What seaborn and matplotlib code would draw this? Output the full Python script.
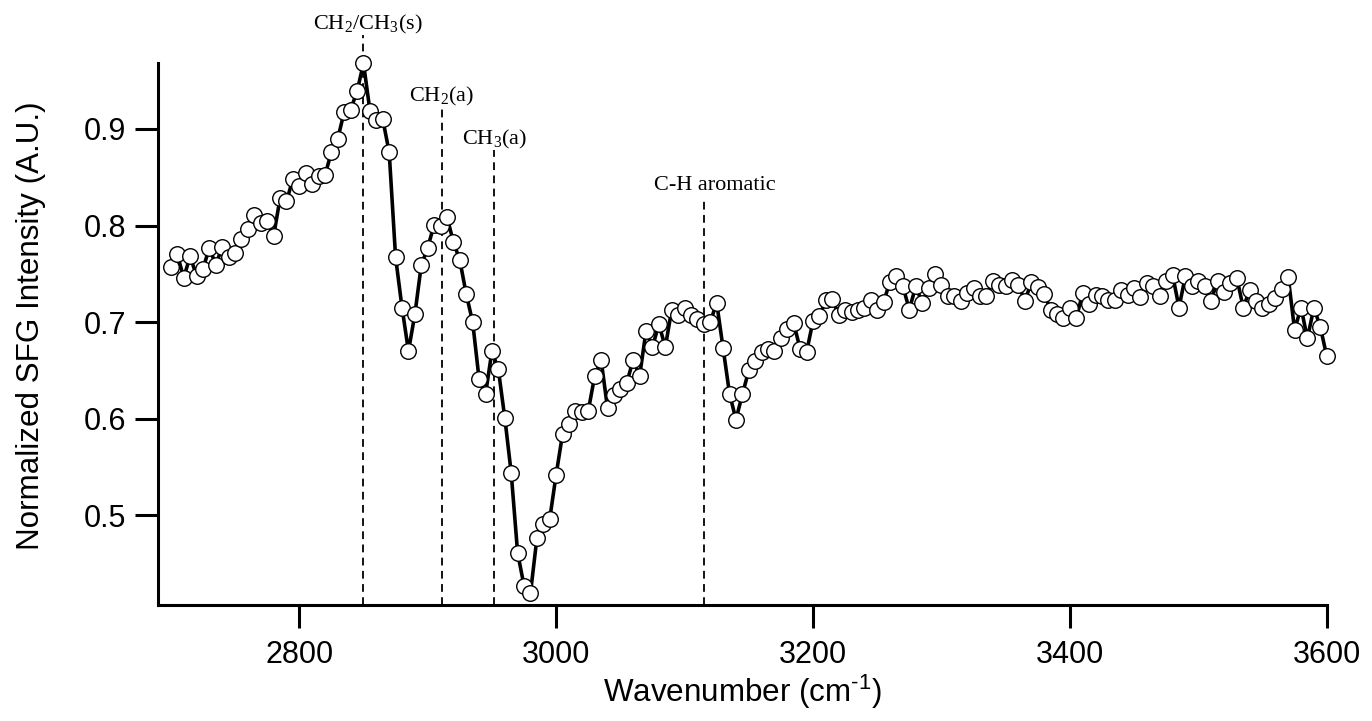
import matplotlib
matplotlib.use("Agg")
import matplotlib.pyplot as plt
import seaborn as sns
import pandas as pd

# ---------------- data ----------------
wavenumber = [
    2700, 2705, 2710, 2715, 2720, 2725, 2730, 2735, 2740, 2745,
    2750, 2755, 2760, 2765, 2770, 2775, 2780, 2785, 2790, 2795,
    2800, 2805, 2810, 2815, 2820, 2825, 2830, 2835, 2840, 2845,
    2850, 2855, 2860, 2865, 2870, 2875, 2880, 2885, 2890, 2895,
    2900, 2905, 2910, 2915, 2920, 2925, 2930, 2935, 2940, 2945,
    2950, 2955, 2960, 2965, 2970, 2975, 2980, 2985, 2990, 2995,
    3000, 3005, 3010, 3015, 3020, 3025, 3030, 3035, 3040, 3045,
    3050, 3055, 3060, 3065, 3070, 3075, 3080, 3085, 3090, 3095,
    3100, 3105, 3110, 3115, 3120, 3125, 3130, 3135, 3140, 3145,
    3150, 3155, 3160, 3165, 3170, 3175, 3180, 3185, 3190, 3195,
    3200, 3205, 3210, 3215, 3220, 3225, 3230, 3235, 3240, 3245,
    3250, 3255, 3260, 3265, 3270, 3275, 3280, 3285, 3290, 3295,
    3300, 3305, 3310, 3315, 3320, 3325, 3330, 3335, 3340, 3345,
    3350, 3355, 3360, 3365, 3370, 3375, 3380, 3385, 3390, 3395,
    3400, 3405, 3410, 3415, 3420, 3425, 3430, 3435, 3440, 3445,
    3450, 3455, 3460, 3465, 3470, 3475, 3480, 3485, 3490, 3495,
    3500, 3505, 3510, 3515, 3520, 3525, 3530, 3535, 3540, 3545,
    3550, 3555, 3560, 3565, 3570, 3575, 3580, 3585, 3590, 3595,
    3600,
]
intensity = [
    0.757, 0.770, 0.746, 0.768, 0.748, 0.755, 0.777, 0.759, 0.778, 0.767,
    0.772, 0.786, 0.796, 0.811, 0.803, 0.805, 0.789, 0.828, 0.825, 0.848,
    0.841, 0.854, 0.843, 0.851, 0.852, 0.876, 0.890, 0.918, 0.920, 0.939,
    0.968, 0.919, 0.909, 0.910, 0.876, 0.767, 0.715, 0.670, 0.708, 0.759,
    0.777, 0.801, 0.800, 0.809, 0.783, 0.764, 0.729, 0.700, 0.641, 0.625,
    0.670, 0.651, 0.601, 0.544, 0.461, 0.427, 0.419, 0.476, 0.491, 0.496,
    0.542, 0.584, 0.594, 0.608, 0.607, 0.608, 0.644, 0.661, 0.611, 0.624,
    0.631, 0.637, 0.661, 0.644, 0.691, 0.674, 0.698, 0.674, 0.713, 0.707,
    0.715, 0.707, 0.703, 0.698, 0.700, 0.720, 0.673, 0.626, 0.599, 0.625,
    0.650, 0.660, 0.669, 0.672, 0.670, 0.683, 0.693, 0.699, 0.672, 0.669,
    0.701, 0.706, 0.723, 0.724, 0.707, 0.713, 0.710, 0.712, 0.715, 0.723,
    0.713, 0.721, 0.742, 0.748, 0.737, 0.713, 0.737, 0.720, 0.735, 0.750,
    0.738, 0.727, 0.727, 0.722, 0.730, 0.735, 0.727, 0.727, 0.743, 0.738,
    0.737, 0.744, 0.738, 0.722, 0.741, 0.736, 0.729, 0.713, 0.708, 0.704,
    0.715, 0.704, 0.730, 0.719, 0.728, 0.727, 0.723, 0.723, 0.733, 0.728,
    0.735, 0.726, 0.740, 0.737, 0.727, 0.743, 0.749, 0.715, 0.748, 0.737,
    0.743, 0.737, 0.722, 0.743, 0.731, 0.740, 0.746, 0.715, 0.733, 0.722,
    0.715, 0.719, 0.725, 0.734, 0.747, 0.692, 0.715, 0.683, 0.715, 0.695,
    0.665,
]

# vibrational mode markers
mode_labels = [r"CH$_{\mathregular{2}}$/CH$_{\mathregular{3}}$(s)",
               r"CH$_{\mathregular{2}}$(a)",
               r"CH$_{\mathregular{3}}$(a)",
               "C-H aromatic"]
mode_positions = [2850, 2911, 2952, 3115]
mode_line_tops = [0.997, 0.923, 0.878, 0.828]
# label offsets from the top of each dashed line (points)
label_dx = [3, 0, 0, 8]
label_dy = [-0.8, -0.8, -0.8, 2.5]

x_ticks = [2800, 3000, 3200, 3400, 3600]
y_ticks = [0.5, 0.6, 0.7, 0.8, 0.9]

# ---------------- style ----------------
sns.set_style("ticks")
plt.rcParams["font.family"] = ["Liberation Sans", "DejaVu Sans"]
plt.rcParams["mathtext.fontset"] = "custom"
plt.rcParams["mathtext.rm"] = "Liberation Sans"
plt.rcParams["axes.unicode_minus"] = False
plt.rcParams["text.color"] = "black"
plt.rcParams["axes.labelcolor"] = "black"
plt.rcParams["xtick.color"] = "black"
plt.rcParams["ytick.color"] = "black"

W, H = 1372, 721
fig = plt.figure(figsize=(W / 100, H / 100), dpi=100)
left_px, right_px, top_px, bottom_px = 157.5, 1326.7, 63.3, 605.0
ax = fig.add_axes([left_px / W, (H - bottom_px) / H,
                   (right_px - left_px) / W, (bottom_px - top_px) / H])

df = pd.DataFrame({"wavenumber": wavenumber, "intensity": intensity})
sns.lineplot(data=df, x="wavenumber", y="intensity", ax=ax,
             estimator=None, sort=False, color="black", linewidth=2.6,
             marker="o", markersize=11.2, markerfacecolor="white",
             markeredgecolor="black", markeredgewidth=1.0, clip_on=False,
             zorder=3)

ax.set_xlim(2689.6, 3600)
ax.set_ylim(0.407, 0.968)

# dashed mode lines + labels
for lab, xp, yt, dx, dy in zip(mode_labels, mode_positions, mode_line_tops,
                               label_dx, label_dy):
    ax.plot([xp, xp], [0.407, yt], color="black", lw=1.3,
            linestyle=(0, (4.3, 3.0)), clip_on=False, zorder=2)
    ax.annotate(lab, xy=(xp, yt), xytext=(dx, dy), textcoords="offset points",
                ha="center", va="bottom", fontsize=16, color="black",
                family=["Liberation Serif", "DejaVu Serif"],
                annotation_clip=False)

ax.set_xticks(x_ticks)
ax.set_yticks(y_ticks)
ax.set_xticklabels([str(t) for t in x_ticks])
ax.set_yticklabels([f"{t:.1f}" for t in y_ticks])

for s in ["top", "right"]:
    ax.spines[s].set_visible(False)
for s in ["left", "bottom"]:
    ax.spines[s].set_linewidth(2.2)
    ax.spines[s].set_color("black")

ax.tick_params(axis="both", which="major", direction="out", length=16.5,
               width=2.2, color="black", labelsize=22, labelcolor="black")
ax.tick_params(axis="x", pad=9)
ax.tick_params(axis="y", pad=6)

ax.set_xlabel(r"Wavenumber (cm$^{\text{-1}}$)", fontsize=22.6, labelpad=2)
ax.set_ylabel("Normalized SFG Intensity (A.U.)", fontsize=22.6)
ax.yaxis.set_label_coords(-0.095, 0.515)

fig.savefig("out.png", dpi=100)
